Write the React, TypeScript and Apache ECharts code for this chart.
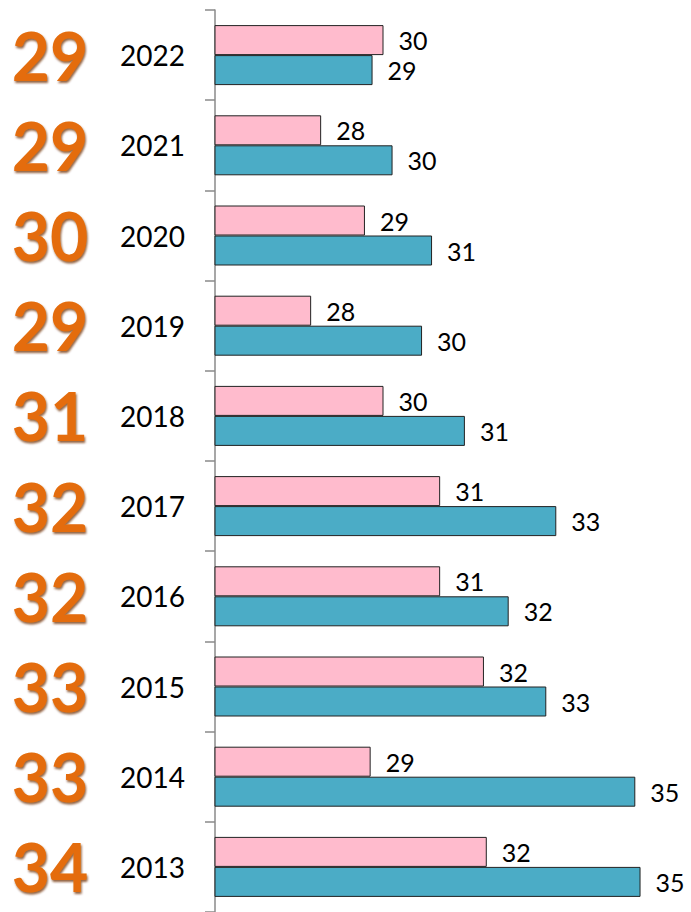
import React, { useEffect, useRef } from "react";
import * as echarts from "echarts";

const years = ["2022", "2021", "2020", "2019", "2018", "2017", "2016", "2015", "2014", "2013"];
const bigNumbers = ["29", "29", "30", "29", "31", "32", "32", "33", "33", "34"];
const pinkValues = [29.54, 28.23, 29.15, 28.02, 29.54, 30.73, 30.73, 31.65, 29.27, 31.71];
const blueValues = [29.31, 29.73, 30.56, 30.35, 31.25, 33.17, 32.17, 32.96, 34.83, 34.94];

const FONT = "Lato, 'Open Sans', sans-serif";

export default function App() {
  const ref = useRef<HTMLDivElement>(null);
  useEffect(() => {
    if (!ref.current) return;
    const chart = echarts.init(ref.current, undefined, { renderer: "svg" });
    const labelCfg = {
      show: true,
      position: "right" as const,
      distance: 15,
      color: "#000",
      fontFamily: FONT,
      fontSize: 25,
      formatter: (p: any) => String(Math.round(p.value)),
    };
    chart.setOption({
      animation: false,
      backgroundColor: "#fff",
      grid: { left: 215, top: 10, width: 485, height: 913, containLabel: false },
      xAxis: {
        type: "value",
        min: 26,
        max: 36,
        show: false,
      },
      yAxis: [
        {
          type: "category",
          data: years,
          inverse: true,
          position: "left",
          axisLine: { show: true, lineStyle: { color: "#8a8a8a", width: 1.5 } },
          axisTick: { show: true, length: 10, lineStyle: { color: "#8a8a8a", width: 1.5 } },
          axisLabel: {
            margin: 30,
            color: "#000",
            fontFamily: FONT,
            fontSize: 28,
          },
        },
        {
          type: "category",
          data: bigNumbers,
          inverse: true,
          position: "left",
          offset: 0,
          axisLine: { show: false },
          axisTick: { show: false },
          axisLabel: {
            margin: 165,
            align: "center",
            color: "#E46C0A",
            fontFamily: FONT,
            fontWeight: "bold",
            fontSize: 66,
            padding: [0, 0, 12, 0],
            textShadowColor: "rgba(110,45,0,0.75)",
            textShadowBlur: 2,
            textShadowOffsetX: 1,
            textShadowOffsetY: 2,
          },
        },
      ],
      series: [
        {
          name: "pink",
          type: "bar",
          data: pinkValues,
          barWidth: 30,
          barGap: "0%",
          itemStyle: { color: "#FFBBCD", borderColor: "#222", borderWidth: 1 },
          label: labelCfg,
        },
        {
          name: "blue",
          type: "bar",
          data: blueValues,
          barWidth: 30,
          itemStyle: { color: "#4BACC6", borderColor: "#222", borderWidth: 1 },
          label: labelCfg,
        },
      ],
    });
    return () => chart.dispose();
  }, []);
  return (
    <div
      ref={ref}
      style={{ position: "fixed", left: 0, top: 0, width: 691, height: 912, background: "#fff" }}
    />
  );
}
